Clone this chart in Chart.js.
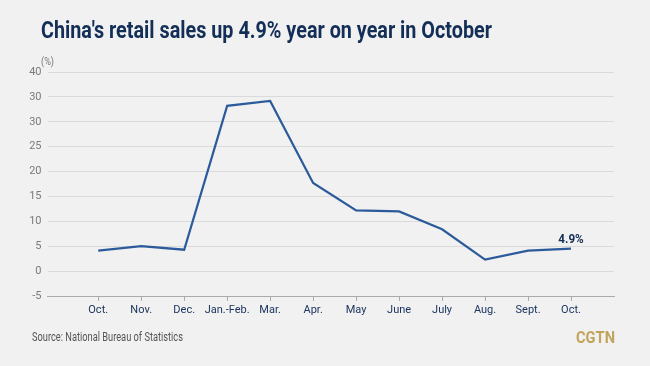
<!DOCTYPE html>
<html>
<head>
<meta charset="utf-8">
<script src="https://cdn.jsdelivr.net/npm/chart.js@4/dist/chart.umd.min.js"></script>
<style>
  html, body { margin: 0; padding: 0; background: #f1f1f1; }
  #wrap { position: relative; width: 650px; height: 366px; overflow: hidden; font-family: Roboto, "Noto Sans", sans-serif; }
  #chart { position: absolute; left: 0; top: 0; }
  .fit { position: absolute; white-space: nowrap; transform-origin: 0 0; }
  .title { left: 41px; top: 17px; font-size: 23px; font-weight: bold; color: #132f57; }
  .unit { left: 41px; top: 56px; font-size: 10px; color: #777; }
  .source { left: 32px; top: 330px; font-size: 12px; color: #555; }
  .logo { left: 576px; top: 328px; font-size: 16px; font-weight: bold; color: #c1a55c; }
</style>
</head>
<body>
<div id="wrap">
  <canvas id="chart" width="650" height="366"></canvas>
  <div class="fit title" data-w="451">China's retail sales up 4.9% year on year in October</div>
  <div class="fit unit" data-w="13">(%)</div>
  <div class="fit source" data-w="151">Source: National Bureau of Statistics</div>
  <div class="fit logo" data-w="39">CGTN</div>
</div>
<script>
const months = ["Oct.", "Nov.", "Dec.", "Jan.-Feb.", "Mar.", "Apr.", "May", "June", "July", "Aug.", "Sept.", "Oct."];
const growth = [4.1, 5.0, 4.3, 33.2, 34.2, 17.7, 12.2, 12.0, 8.4, 2.3, 4.1, 4.5];
const yTickValues = [-5, 0, 5, 10, 15, 20, 25, 30, 35, 40];
const yTickLabels = ["-5", "0", "5", "10", "15", "20", "25", "30", "30", "40"];
const lastLabel = "4.9%";

// squeeze html text to the widths of the condensed original
document.querySelectorAll(".fit").forEach((el) => {
  const w = el.getBoundingClientRect().width;
  el.style.transform = "scaleX(" + (+el.dataset.w / w) + ")";
});

const tickFont = "Roboto, 'Noto Sans', sans-serif";

// label above the last point, squeezed a bit
const endLabel = {
  id: "endLabel",
  afterDatasetsDraw(chart) {
    const pts = chart.getDatasetMeta(0).data;
    const p = pts[pts.length - 1];
    const ctx = chart.ctx;
    ctx.save();
    ctx.font = "bold 13px " + tickFont;
    ctx.fillStyle = "#132f57";
    ctx.textAlign = "center";
    ctx.textBaseline = "bottom";
    ctx.translate(p.x, p.y - 2);
    ctx.scale(0.9, 1);
    ctx.fillText(lastLabel, 0, 0);
    ctx.restore();
  }
};

new Chart(document.getElementById("chart"), {
  type: "line",
  data: {
    datasets: [{
      data: growth.map((v, i) => ({ x: i, y: v })),
      borderColor: "#2c5b9b",
      borderWidth: 2.2,
      pointRadius: 0,
      tension: 0,
    }],
  },
  options: {
    responsive: false,
    animation: false,
    layout: { padding: { left: 0, top: 72, right: 36, bottom: 40 } },
    plugins: { legend: { display: false }, tooltip: { enabled: false } },
    scales: {
      x: {
        type: "linear",
        min: -1.18,
        max: 12.0,
        afterBuildTicks: (s) => { s.ticks = months.map((m, i) => ({ value: i })); },
        afterFit: (s) => { s.height = 30; },
        ticks: {
          autoSkip: false,
          maxRotation: 0,
          padding: 3,
          color: "#1c3660",
          font: { family: tickFont, size: 11 },
          callback: (v) => months[v],
        },
        grid: { drawOnChartArea: false, tickLength: 5, color: "#aaaaaa" },
        border: { color: "#aaaaaa", width: 1 },
      },
      y: {
        min: -5,
        max: 40,
        afterBuildTicks: (s) => { s.ticks = yTickValues.map((v) => ({ value: v })); },
        afterFit: (s) => { s.width = 47.5; },
        ticks: {
          padding: 6,
          color: "#7a7a7a",
          font: { family: tickFont, size: 11 },
          callback: (v) => yTickLabels[yTickValues.indexOf(v)],
        },
        grid: { drawTicks: false, color: "#dadada", lineWidth: 1 },
        border: { display: false },
      },
    },
  },
  plugins: [endLabel],
});
</script>
</body>
</html>
